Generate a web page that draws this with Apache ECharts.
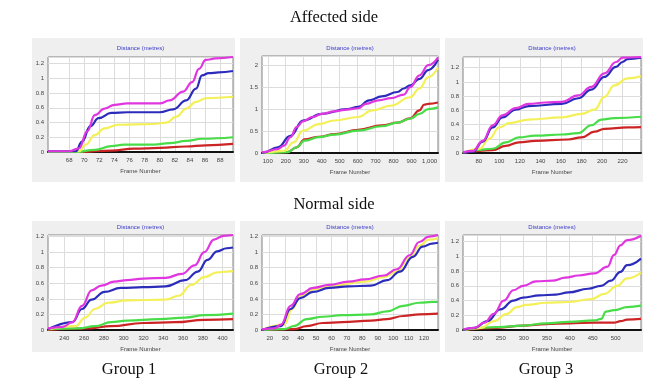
<!DOCTYPE html>
<html>
<head>
<meta charset="UTF-8">
<title>Distance (metres) - affected / normal side</title>
<script src="https://cdn.jsdelivr.net/npm/echarts@6/dist/echarts.min.js"></script>
<style>
  html, body { margin: 0; padding: 0; background: #fff; }
  #main { width: 665px; height: 381px; }
</style>
</head>
<body>
<div id="main"></div>
<script>
// line order in every panel: magenta, blue, yellow, green, red
const lineColors = ['#e036e0', '#2c2cba', '#f4f05a', '#48dd48', '#cc2424'];

// tick labels (frame number)
const ticksAff1 = [68, 70, 72, 74, 76, 78, 80, 82, 84, 86, 88];
const ticksAff2 = [100, 200, 300, 400, 500, 600, 700, 800, 900, 1000];
const ticksAff3 = [80, 100, 120, 140, 160, 180, 200, 220];
const ticksNor1 = [240, 260, 280, 300, 320, 340, 360, 380, 400];
const ticksNor2 = [20, 30, 40, 50, 60, 70, 80, 90, 100, 110, 120];
const ticksNor3 = [200, 250, 300, 350, 400, 450, 500];

// affected side, group 1
const aff1M = [[65.2,0.01],[68,0.01],[69.3,0.05],[70.4,0.28],[71.4,0.5],[72.7,0.59],[74,0.64],[75.7,0.66],[80,0.66],[81.3,0.7],[83.1,0.82],[84.3,0.95],[85.2,1.13],[86.1,1.25],[87.4,1.27],[89.7,1.29]];
const aff1B = [[65.2,0.01],[68.9,0.01],[69.7,0.14],[70.8,0.35],[71.9,0.46],[73.6,0.53],[75.7,0.54],[80,0.54],[81.8,0.58],[83.5,0.7],[84.8,0.86],[85.6,1.04],[86.5,1.07],[87.8,1.08],[89.7,1.1]];
const aff1Y = [[65.2,0.01],[69.3,0.01],[70.2,0.1],[71.4,0.23],[72.7,0.32],[74.5,0.37],[79.2,0.38],[80.9,0.4],[82.2,0.48],[83.5,0.59],[84.8,0.68],[86.1,0.73],[89.7,0.75]];
const aff1G = [[65.2,0],[68.9,0],[71.4,0.03],[73.6,0.08],[75.3,0.1],[79.2,0.1],[81.3,0.12],[83.5,0.15],[85.6,0.18],[89.7,0.2]];
const aff1R = [[65.2,0],[69.3,0],[73.6,0.02],[76.6,0.045],[80,0.055],[83.5,0.075],[86.1,0.09],[89.7,0.11]];

// affected side, group 2
const aff2M = [[68,0.02],[77,0.02],[156,0.09],[191,0.17],[226,0.36],[261,0.59],[296,0.72],[349,0.82],[401,0.89],[471,0.95],[541,0.99],[603,1.02],[646,1.12],[716,1.2],[786,1.25],[857,1.33],[892,1.5],[944,1.77],[993,2.0],[1047,2.18]];
const aff2B = [[68,0.01],[77,0.01],[156,0.13],[226,0.39],[296,0.74],[401,0.89],[541,1.0],[603,1.05],[664,1.2],[734,1.29],[822,1.39],[857,1.47],[892,1.54],[944,1.69],[993,1.89],[1047,2.13]];
const aff2Y = [[68,0.01],[77,0.01],[191,0.05],[244,0.24],[296,0.51],[384,0.66],[471,0.74],[603,0.82],[681,0.97],[786,1.08],[892,1.27],[944,1.47],[993,1.73],[1047,1.95]];
const aff2G = [[68,0],[77,0],[209,0.02],[261,0.13],[305,0.28],[384,0.36],[471,0.42],[603,0.51],[734,0.61],[822,0.69],[892,0.78],[944,0.89],[993,1.0],[1047,1.04]];
const aff2R = [[68,0],[77,0],[209,0.02],[261,0.13],[305,0.31],[384,0.37],[471,0.43],[603,0.53],[734,0.63],[822,0.69],[892,0.79],[944,0.97],[970,1.1],[993,1.12],[1047,1.15]];

// affected side, group 3
const aff3M = [[64.6,0.01],[74.2,0.03],[83.8,0.17],[93.5,0.39],[103.1,0.53],[115.9,0.63],[128.7,0.69],[144.7,0.71],[160.8,0.72],[176.8,0.81],[189.6,0.93],[202.4,1.12],[213.7,1.28],[220,1.34],[238,1.35]];
const aff3B = [[64.6,0],[74.2,0.02],[83.8,0.16],[93.5,0.36],[103.1,0.5],[115.9,0.61],[128.7,0.66],[160.8,0.69],[176.8,0.77],[189.6,0.89],[202.4,1.07],[213.7,1.21],[220,1.28],[224.9,1.32],[238,1.34]];
const aff3Y = [[64.6,0],[80.6,0.06],[90.3,0.2],[99.9,0.36],[109.5,0.42],[128.7,0.47],[160.8,0.5],[180,0.55],[192.8,0.61],[202.4,0.79],[212,0.95],[224.9,1.05],[238,1.08]];
const aff3G = [[64.6,0],[77.4,0.04],[93.5,0.06],[106.3,0.15],[119.1,0.22],[135.1,0.245],[160.8,0.26],[176.8,0.28],[189.6,0.39],[199.2,0.47],[212,0.49],[238,0.51]];
const aff3R = [[64.6,0],[93.5,0.04],[106.3,0.1],[119.1,0.15],[135.1,0.17],[167.2,0.19],[180,0.22],[192.8,0.3],[202.4,0.34],[224.9,0.36],[238,0.365]];

// normal side, group 1
const nor1M = [[223.5,0.02],[238.4,0.04],[248.1,0.1],[257.9,0.31],[267.6,0.51],[277.4,0.57],[290.4,0.62],[303.4,0.64],[319.7,0.66],[342.4,0.67],[358.7,0.72],[371.7,0.83],[381.5,1.0],[391.2,1.16],[401,1.21],[410.5,1.22]];
const nor1B = [[223.5,0.01],[248.1,0.1],[257.9,0.27],[267.6,0.39],[280.7,0.49],[296.9,0.54],[319.7,0.55],[342.4,0.56],[362,0.64],[375,0.75],[384.7,0.9],[394.5,1.01],[404.2,1.05],[410.5,1.06]];
const nor1Y = [[223.5,0.01],[251.4,0.05],[261.1,0.16],[270.9,0.27],[283.9,0.35],[303.4,0.38],[342.4,0.39],[355.4,0.44],[368.5,0.58],[381.5,0.68],[394.5,0.74],[404.2,0.75],[410.5,0.755]];
const nor1G = [[223.5,0.01],[254.6,0.02],[270.9,0.05],[287.2,0.1],[303.4,0.12],[335.9,0.14],[362,0.16],[381.5,0.19],[410.5,0.21]];
const nor1R = [[223.5,0],[264.4,0.02],[287.2,0.05],[319.7,0.09],[352.2,0.1],[381.5,0.13],[410.5,0.14]];

// normal side, group 2
const nor2M = [[15,0.01],[23.1,0.02],[27.3,0.07],[33.5,0.31],[39.8,0.46],[48.1,0.54],[58.5,0.58],[71,0.62],[81.5,0.65],[94,0.7],[102.3,0.78],[110.6,0.96],[116.9,1.13],[123.1,1.2],[129,1.22]];
const nor2B = [[15,0],[27.3,0.05],[33.5,0.27],[39.8,0.41],[48.1,0.49],[58.5,0.54],[71,0.56],[85.6,0.57],[96,0.64],[104.4,0.75],[112.7,0.94],[119,1.07],[125.2,1.11],[129,1.12]];
const nor2Y = [[15,0],[29.4,0.07],[34.6,0.27],[39.8,0.44],[48.1,0.52],[60.6,0.57],[81.5,0.62],[94,0.68],[102.3,0.75],[110.6,0.93],[116.9,1.08],[123.1,1.16],[129,1.18]];
const nor2G = [[15,0],[29.4,0.01],[35.6,0.05],[44,0.14],[54.4,0.17],[66.9,0.19],[85.6,0.2],[96,0.24],[106.5,0.31],[116.9,0.35],[125.2,0.36],[129,0.36]];
const nor2R = [[15,0],[35.6,0.01],[44,0.05],[54.4,0.09],[66.9,0.1],[85.6,0.12],[96,0.14],[106.5,0.18],[116.9,0.2],[129,0.21]];

// normal side, group 3
const nor3M = [[168,0.01],[192.9,0.03],[214.1,0.1],[235.3,0.22],[256.5,0.4],[277.6,0.54],[298.8,0.6],[327,0.66],[362.3,0.67],[390.5,0.71],[418.8,0.74],[454.1,0.77],[482.3,0.86],[496.4,1.02],[510.5,1.15],[524.6,1.22],[555,1.28]];
const nor3B = [[168,0],[192.9,0.03],[221.2,0.12],[249.4,0.28],[277.6,0.4],[298.8,0.44],[334.1,0.47],[369.4,0.48],[397.6,0.51],[439.9,0.56],[468.2,0.6],[489.3,0.67],[510.5,0.79],[524.6,0.88],[555,0.97]];
const nor3Y = [[168,0],[207.1,0.03],[235.3,0.12],[263.5,0.22],[284.7,0.31],[305.9,0.34],[348.2,0.37],[397.6,0.38],[447,0.42],[475.2,0.49],[503.5,0.6],[524.6,0.7],[555,0.78]];
const nor3G = [[168,0],[242.3,0.04],[298.8,0.06],[348.2,0.09],[397.6,0.11],[454.1,0.13],[468.2,0.15],[478.8,0.25],[496.4,0.27],[524.6,0.31],[555,0.33]];
const nor3R = [[168,0],[242.3,0.03],[298.8,0.06],[348.2,0.08],[397.6,0.09],[454.1,0.1],[496.4,0.1],[510.5,0.12],[524.6,0.14],[555,0.15]];

const panels = [
    { xMin: 65.2, xMax: 89.7, ticks: ticksAff1, yMax: 1.29, yStep: 0.2, lines: [aff1M, aff1B, aff1Y, aff1G, aff1R] },
    { xMin: 68,   xMax: 1047, ticks: ticksAff2, yMax: 2.21, yStep: 0.5, lines: [aff2M, aff2B, aff2Y, aff2G, aff2R] },
    { xMin: 64.6, xMax: 238,  ticks: ticksAff3, yMax: 1.35, yStep: 0.2, lines: [aff3M, aff3B, aff3Y, aff3G, aff3R] },
    { xMin: 223.5, xMax: 410.5, ticks: ticksNor1, yMax: 1.22, yStep: 0.2, lines: [nor1M, nor1B, nor1Y, nor1G, nor1R] },
    { xMin: 15,   xMax: 129,  ticks: ticksNor2, yMax: 1.22, yStep: 0.2, lines: [nor2M, nor2B, nor2Y, nor2G, nor2R] },
    { xMin: 168,  xMax: 555,  ticks: ticksNor3, yMax: 1.29, yStep: 0.2, lines: [nor3M, nor3B, nor3Y, nor3G, nor3R] }
];

// screen boxes: gray panel [x, y, w, h], plot [left, top, width, height], title y
const layout = [
    { box: [32, 38, 203, 144],  plot: [48, 57, 185, 95],  titleY: 48 },
    { box: [240, 38, 200, 144], plot: [262, 56, 176, 97], titleY: 48 },
    { box: [445, 38, 198, 144], plot: [463, 57, 178, 96], titleY: 48 },
    { box: [32, 221, 203, 131], plot: [48, 235, 185, 95], titleY: 227 },
    { box: [240, 221, 200, 131], plot: [262, 235, 176, 95], titleY: 227 },
    { box: [445, 221, 198, 131], plot: [463, 235, 178, 95], titleY: 227 }
];

const smallFont = "'Liberation Sans Narrow', 'Liberation Sans', sans-serif";
const bigFont = "'Liberation Serif', 'DejaVu Serif', serif";

let grids = [], xAxes = [], yAxes = [], series = [], graphics = [];

panels.forEach(function (p, i) {
    let L = layout[i];
    graphics.push({
        type: 'rect', z: -1,
        shape: { x: L.box[0], y: L.box[1], width: L.box[2], height: L.box[3] },
        style: { fill: '#efefef' }
    });
    graphics.push({
        type: 'text', z: 100,
        style: {
            text: 'Distance (metres)', x: L.plot[0] + L.plot[2] / 2, y: L.titleY,
            textAlign: 'center', textVerticalAlign: 'middle',
            fill: '#3a3acc', font: '6px ' + smallFont
        }
    });
    grids.push({
        left: L.plot[0], top: L.plot[1], width: L.plot[2], height: L.plot[3],
        show: true, backgroundColor: '#ffffff', borderColor: '#808080', borderWidth: 1
    });
    xAxes.push({
        gridIndex: i, type: 'value', min: p.xMin, max: p.xMax,
        name: 'Frame Number', nameLocation: 'middle', nameGap: 16,
        nameTextStyle: { fontSize: 6, color: '#444', fontFamily: smallFont },
        axisLine: { show: true, onZero: false, lineStyle: { color: '#111', width: 2 } },
        axisTick: { show: false, customValues: p.ticks },
        axisLabel: { customValues: p.ticks, fontSize: 6, color: '#444', margin: 5, fontFamily: smallFont },
        splitLine: { show: true, lineStyle: { color: '#dcdcdc', width: 1 } }
    });
    yAxes.push({
        gridIndex: i, type: 'value', min: 0, max: p.yMax, interval: p.yStep,
        axisLine: { show: false },
        axisTick: { show: false },
        axisLabel: { fontSize: 6, color: '#444', margin: 4, showMaxLabel: false, fontFamily: smallFont },
        splitLine: { show: true, lineStyle: { color: '#dcdcdc', width: 1 } }
    });
    // draw red/green first, magenta last
    for (let k = p.lines.length - 1; k >= 0; k--) {
        series.push({
            type: 'line', xAxisIndex: i, yAxisIndex: i,
            data: p.lines[k], smooth: 0.45, smoothMonotone: 'x',
            showSymbol: false, silent: true,
            lineStyle: { color: lineColors[k], width: 2.2 }
        });
    }
});

// headings
const headings = [
    { text: 'Affected side', x: 334, y: 18 },
    { text: 'Normal side', x: 334, y: 205 },
    { text: 'Group 1', x: 129, y: 370 },
    { text: 'Group 2', x: 341, y: 370 },
    { text: 'Group 3', x: 546, y: 370 }
];
headings.forEach(function (h) {
    graphics.push({
        type: 'text', z: 100,
        style: {
            text: h.text, x: h.x, y: h.y, textAlign: 'center', textVerticalAlign: 'middle',
            fill: '#111', font: '16.5px ' + bigFont
        }
    });
});

let myChart = echarts.init(document.getElementById('main'));
myChart.setOption({
    animation: false,
    backgroundColor: '#ffffff',
    grid: grids,
    xAxis: xAxes,
    yAxis: yAxes,
    series: series,
    graphic: graphics
});
</script>
</body>
</html>
